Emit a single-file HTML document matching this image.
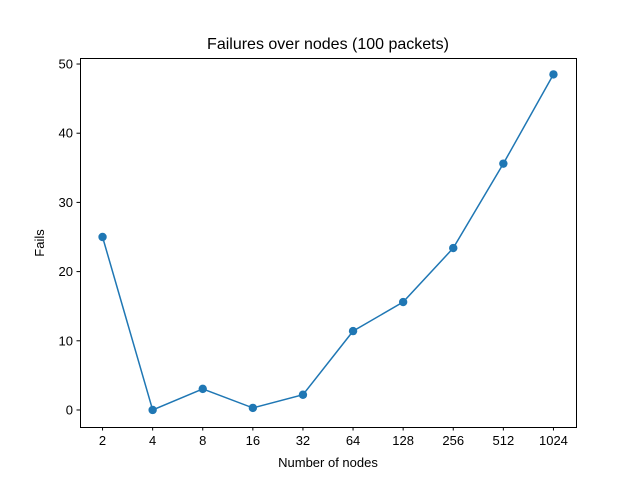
<!DOCTYPE html>
<html><head><meta charset="utf-8"><style>
html,body{margin:0;padding:0;background:#fff;}
svg{display:block;font-family:"Liberation Sans","DejaVu Sans",sans-serif;}
</style></head><body>
<svg id="chart" width="640" height="480" viewBox="0 0 640 480">
<rect x="0" y="0" width="640" height="480" fill="#fff"/>
<text x="328" y="49" text-anchor="middle" font-size="16" fill="#000">Failures over nodes (100 packets)</text>
<g id="plot"></g>
<rect x="80.5" y="58.5" width="496" height="369" fill="none" stroke="#000" stroke-width="1"/>
<text x="328" y="467" text-anchor="middle" font-size="13" fill="#000">Number of nodes</text>
<text transform="translate(44,243) rotate(-90)" text-anchor="middle" font-size="13" fill="#000">Fails</text>
</svg>
<script>
const categories = ["2","4","8","16","32","64","128","256","512","1024"];
const fails = [25.0, 0.0, 3.05, 0.3, 2.2, 11.4, 15.6, 23.4, 35.6, 48.5];
const yTicks = [0, 10, 20, 30, 40, 50];

const NS = "http://www.w3.org/2000/svg";
const plot = document.getElementById("plot");
const pLeft = 80, pRight = 576, pTop = 58, pBottom = 427;
const xMin = -0.45, xMax = categories.length - 1 + 0.45;
const yMin = -2.46, yMax = 50.87;
function xScale(i){ return pLeft + (i - xMin) / (xMax - xMin) * (pRight - pLeft); }
function yScale(v){ return pBottom - (v - yMin) / (yMax - yMin) * (pBottom - pTop); }
function mk(tag, attrs){ const e = document.createElementNS(NS, tag); for (const k in attrs) e.setAttribute(k, attrs[k]); return e; }

yTicks.forEach(t => {
  const y = yScale(t);
  const tick = mk("line", {x1: pLeft - 3.5, x2: pLeft, y1: y, y2: y, stroke: "#000"});
  
  
  plot.appendChild(tick);
  const lab = mk("text", {x: pLeft - 7, y: y + 4.5, "text-anchor": "end", "font-size": "13", fill: "#000"});
  lab.textContent = t;
  
  
  plot.appendChild(lab);
});
categories.forEach((c, i) => {
  const x = xScale(i);
  const tick = mk("line", {x1: x, x2: x, y1: pBottom, y2: pBottom + 3.5, stroke: "#000"});
  
  
  plot.appendChild(tick);
  const lab = mk("text", {x: x, y: pBottom + 18, "text-anchor": "middle", "font-size": "13", fill: "#000"});
  lab.textContent = c;
  
  
  plot.appendChild(lab);
});
const pts = fails.map((v, i) => xScale(i).toFixed(2) + "," + yScale(v).toFixed(2)).join(" ");
const line = mk("polyline", {points: pts, fill: "none", stroke: "#1f77b4", "stroke-width": "1.5"});


plot.appendChild(line);
fails.forEach((v, i) => {
  const c = mk("circle", {cx: xScale(i), cy: yScale(v), r: 4.2, fill: "#1f77b4"});
  
  
  plot.appendChild(c);
});
</script>
</body></html>
